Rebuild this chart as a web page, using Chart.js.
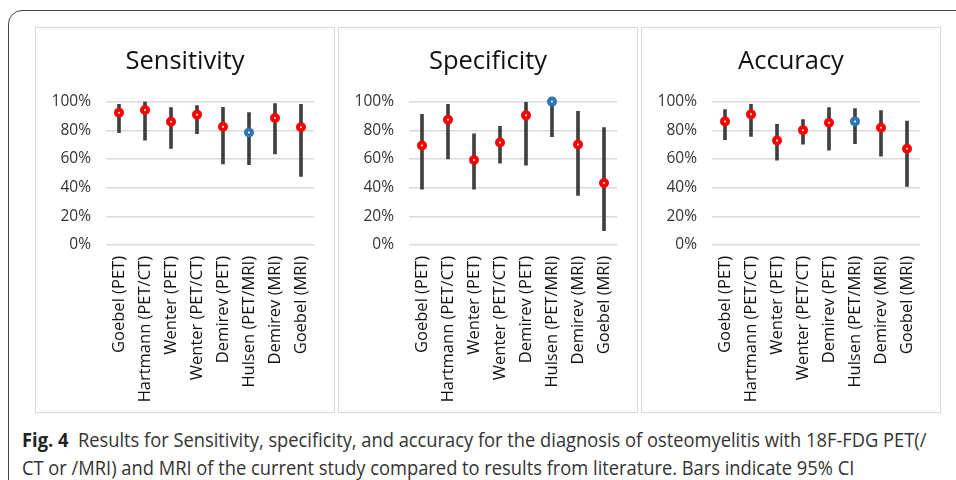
<!DOCTYPE html>
<html>
<head>
<meta charset="utf-8">
<script src="https://cdn.jsdelivr.net/npm/chart.js@4"></script>
<style>
  body { margin: 0; background: #fff; width: 956px; height: 480px; overflow: hidden; position: relative; }
  .frame { position: absolute; left: 8px; top: 10px; width: 1000px; height: 600px;
           border: 1.5px solid #444; border-top-left-radius: 14px; }
  .panel { position: absolute; top: 27px; width: 298px; height: 384px; border: 1px solid #d9d9d9; background: #fff; }
  .caption { position: absolute; left: 22px; top: 426px; white-space: nowrap;
             font-family: "Open Sans", sans-serif; font-size: 20px; line-height: 28px; color: #333;
             transform: scaleX(0.915); transform-origin: 0 0; }
  .caption b { color: #222; }
</style>
</head>
<body>
<div class="frame"></div>
<div class="panel" style="left:35px"><canvas id="sens"></canvas></div>
<div class="panel" style="left:338px"><canvas id="spec"></canvas></div>
<div class="panel" style="left:641px"><canvas id="acc"></canvas></div>
<div class="caption"><b>Fig. 4</b>&nbsp; Results for Sensitivity, specificity, and accuracy for the diagnosis of osteomyelitis with 18F-FDG PET(/<br>CT or /MRI) and MRI of the current study compared to results from literature. Bars indicate 95% CI</div>
<script>
const studies = ['Goebel (PET)', 'Hartmann (PET/CT)', 'Wenter (PET)', 'Wenter (PET/CT)',
                 'Demirev (PET)', 'Hulsen (PET/MRI)', 'Demirev (MRI)', 'Goebel (MRI)'];

// point estimates and 95% CI (fractions)
const sensitivity = [0.923, 0.942, 0.860, 0.909, 0.825, 0.785, 0.886, 0.822];
const sensLow = [0.783, 0.731, 0.673, 0.776, 0.565, 0.561, 0.636, 0.479];
const sensHigh = [0.981, 1.000, 0.958, 0.972, 0.960, 0.923, 0.986, 0.981];

const specificity = [0.694, 0.874, 0.593, 0.715, 0.904, 1.000, 0.701, 0.432];
const specLow = [0.390, 0.600, 0.390, 0.570, 0.556, 0.755, 0.346, 0.100];
const specHigh = [0.911, 0.981, 0.776, 0.827, 0.995, 1.000, 0.932, 0.818];

const accuracy = [0.862, 0.911, 0.729, 0.801, 0.853, 0.862, 0.818, 0.671];
const accLow = [0.734, 0.757, 0.591, 0.703, 0.661, 0.706, 0.619, 0.409];
const accHigh = [0.944, 0.981, 0.841, 0.874, 0.958, 0.951, 0.937, 0.864];

// the current study (Hulsen) is drawn in blue
const pointColors = studies.map(s => s.startsWith('Hulsen') ? '#2e75b6' : '#ff0000');

function makeChart(id, title, values, low, high) {
    const ctx = document.getElementById(id).getContext('2d');
    return new Chart(ctx, {
        type: 'bar',
        data: {
            labels: studies,
            datasets: [{
                type: 'line',
                data: values,
                showLine: false,
                clip: false,
                pointRadius: 3,
                pointHoverRadius: 3,
                pointBorderWidth: 4,
                pointBackgroundColor: '#fff',
                pointBorderColor: pointColors,
                order: 0
            }, {
                data: low.map((l, i) => [l, high[i]]),
                backgroundColor: '#404040',
                barThickness: 3,
                borderSkipped: false,
                order: 1
            }]
        },
        options: {
            responsive: false,
            animation: false,
            devicePixelRatio: 1,
            layout: { padding: 0 },
            plugins: {
                legend: { display: false },
                tooltip: { enabled: false },
                title: {
                    display: true,
                    text: title,
                    color: '#111',
                    font: { family: 'Open Sans', size: 25.5, weight: 'normal', lineHeight: 1.2 },
                    padding: { top: 18, bottom: 25 }
                }
            },
            scales: {
                y: {
                    min: 0,
                    max: 1,
                    border: { display: false },
                    grid: { color: '#d9d9d9', lineWidth: 1.5, drawTicks: false },
                    ticks: {
                        stepSize: 0.2,
                        padding: 15,
                        color: '#333',
                        font: { family: 'Open Sans', size: 15.5 },
                        callback: v => Math.round(v * 100) + '%'
                    },
                    afterFit: scale => { scale.width = 70; }
                },
                // empty right-hand margin so the title stays centred on the panel
                yRight: {
                    position: 'right',
                    min: 0,
                    max: 1,
                    border: { display: false },
                    grid: { display: false, drawTicks: false },
                    ticks: { display: false },
                    afterFit: scale => { scale.width = 20; }
                },
                x: {
                    border: { display: false },
                    grid: { display: false, drawTicks: false },
                    ticks: {
                        minRotation: 90,
                        maxRotation: 90,
                        padding: 11,
                        color: '#111',
                        font: { family: 'Open Sans', size: 16.5 }
                    },
                    afterFit: scale => { scale.height = 167; }
                }
            }
        }
    });
}

for (const id of ['sens', 'spec', 'acc']) {
    const c = document.getElementById(id);
    c.width = 298;
    c.height = 384;
}

makeChart('sens', 'Sensitivity', sensitivity, sensLow, sensHigh);
makeChart('spec', 'Specificity', specificity, specLow, specHigh);
makeChart('acc', 'Accuracy', accuracy, accLow, accHigh);
</script>
</body>
</html>
